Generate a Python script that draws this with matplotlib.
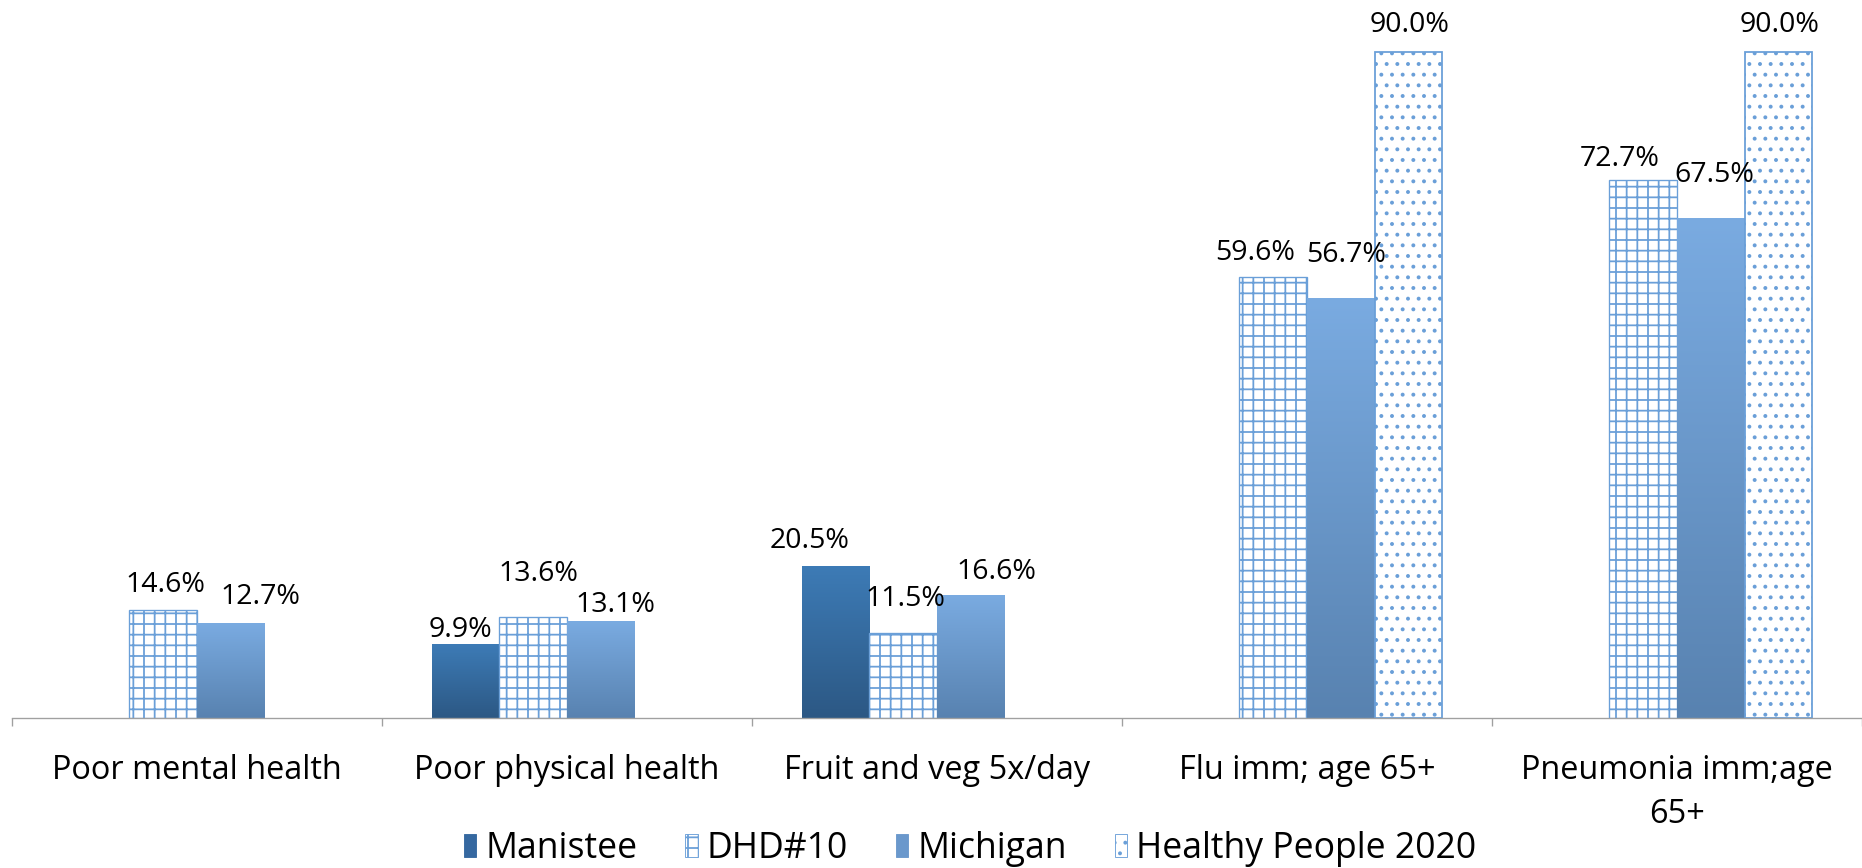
import matplotlib
matplotlib.use('Agg')
import matplotlib.pyplot as plt
import numpy as np
from matplotlib.patches import Patch
from matplotlib.colors import LinearSegmentedColormap

categories = ["Poor mental health", "Poor physical health", "Fruit and veg 5x/day",
              "Flu imm; age 65+", "Pneumonia imm;age\n65+"]
series = ["Manistee", "DHD#10", "Michigan", "Healthy People 2020"]
manistee = [np.nan, 9.9, 20.5, np.nan, np.nan]
dhd10 = [14.6, 13.6, 11.5, 59.6, 72.7]
michigan = [12.7, 13.1, 16.6, 56.7, 67.5]
hp2020 = [np.nan, np.nan, np.nan, 90.0, 90.0]

DPI = 64
W, H = 1862, 868
PX = 72 / DPI  # points per pixel
plt.rcParams['font.family'] = ['Open Sans', 'DejaVu Sans']
plt.rcParams['hatch.linewidth'] = 2.0

fig = plt.figure(figsize=(W / DPI, H / DPI), dpi=DPI)
ax = fig.add_axes([12 / W, 150 / H, 1 - 12 / W, 718 / H])

blue_edge = '#6a9fd8'
x = np.arange(len(categories))
w = 0.183
offsets = np.array([-1.5, -0.5, 0.5, 1.5]) * w

grad_man = LinearSegmentedColormap.from_list('man', ['#3d7bb6', '#2c5884'])
grad_mich = LinearSegmentedColormap.from_list('mich', ['#7aabe1', '#5882b0'])
grad = np.linspace(0, 1, 256).reshape(-1, 1)

# label placement (pixels): horizontal shift and baseline gap above bar top,
# mimicking the original's collision-avoiding label layout
label_shift = [
    [(0, 18), (-5, 8), (-26, 18), (0, 18), (0, 18)],
    [(2, 18), (5, 36), (2, 27), (-18, 17), (-23, 14)],
    [(30, 20), (15, 9), (26, 16), (5, 36), (3, 36)],
    [(0, 20), (0, 20), (0, 20), (1, 20), (1, 20)],
]
label_fs = 32

series_data = [manistee, dhd10, michigan, hp2020]
for si, vals in enumerate(series_data):
    vals = np.array(vals, dtype=float)
    for ci in range(len(categories)):
        h = vals[ci]
        if np.isnan(h):
            continue
        xi = x[ci] + offsets[si]
        if si in (0, 2):
            cmap = grad_man if si == 0 else grad_mich
            ax.imshow(grad, cmap=cmap, extent=(xi - w / 2, xi + w / 2, 0, h),
                      aspect='auto', origin='upper', zorder=2, interpolation='bilinear')
        elif si == 1:
            ax.bar([xi], [h], w, facecolor='white', edgecolor=blue_edge, hatch='+',
                   linewidth=1.5, zorder=2)
        else:
            ax.bar([xi], [h], w, facecolor='white', edgecolor=blue_edge, hatch='.',
                   linewidth=2.0, zorder=2)
        dx, gap = label_shift[si][ci]
        ax.annotate(f"{h:.1f}%", (xi, h), xytext=(dx * PX, gap * PX),
                    textcoords='offset points', ha='center', va='baseline',
                    fontsize=label_fs, color='black', zorder=5)

ax.set_xlim(-0.5, len(categories) - 0.5)
ax.set_ylim(0, 97)
for s in ['top', 'right', 'left']:
    ax.spines[s].set_visible(False)
ax.spines['bottom'].set_color('#a0a0a0')
ax.spines['bottom'].set_linewidth(1.5)
ax.set_yticks([])
ax.set_xticks(x)
ax.set_xticklabels(categories, fontsize=36.5, linespacing=1.47)
ax.tick_params(axis='x', which='major', length=0, pad=40)
ax.set_xticks(np.arange(-0.5, len(categories), 1.0), minor=True)
ax.tick_params(axis='x', which='minor', length=9, width=1.5, color='#a0a0a0')

handles = [
    Patch(facecolor='#3568a0', edgecolor='#3568a0'),
    Patch(facecolor='white', edgecolor=blue_edge, hatch='+'),
    Patch(facecolor='#6a98cc', edgecolor='#6a98cc'),
    Patch(facecolor='white', edgecolor=blue_edge, hatch='.'),
]
fig.legend(handles, series, loc='center', bbox_to_anchor=(0.521, 0.022), ncol=4,
           frameon=False, fontsize=40, handlelength=0.35, handleheight=0.62,
           handletextpad=0.25, columnspacing=1.35, borderaxespad=0)

fig.savefig('out.png', dpi=DPI)
